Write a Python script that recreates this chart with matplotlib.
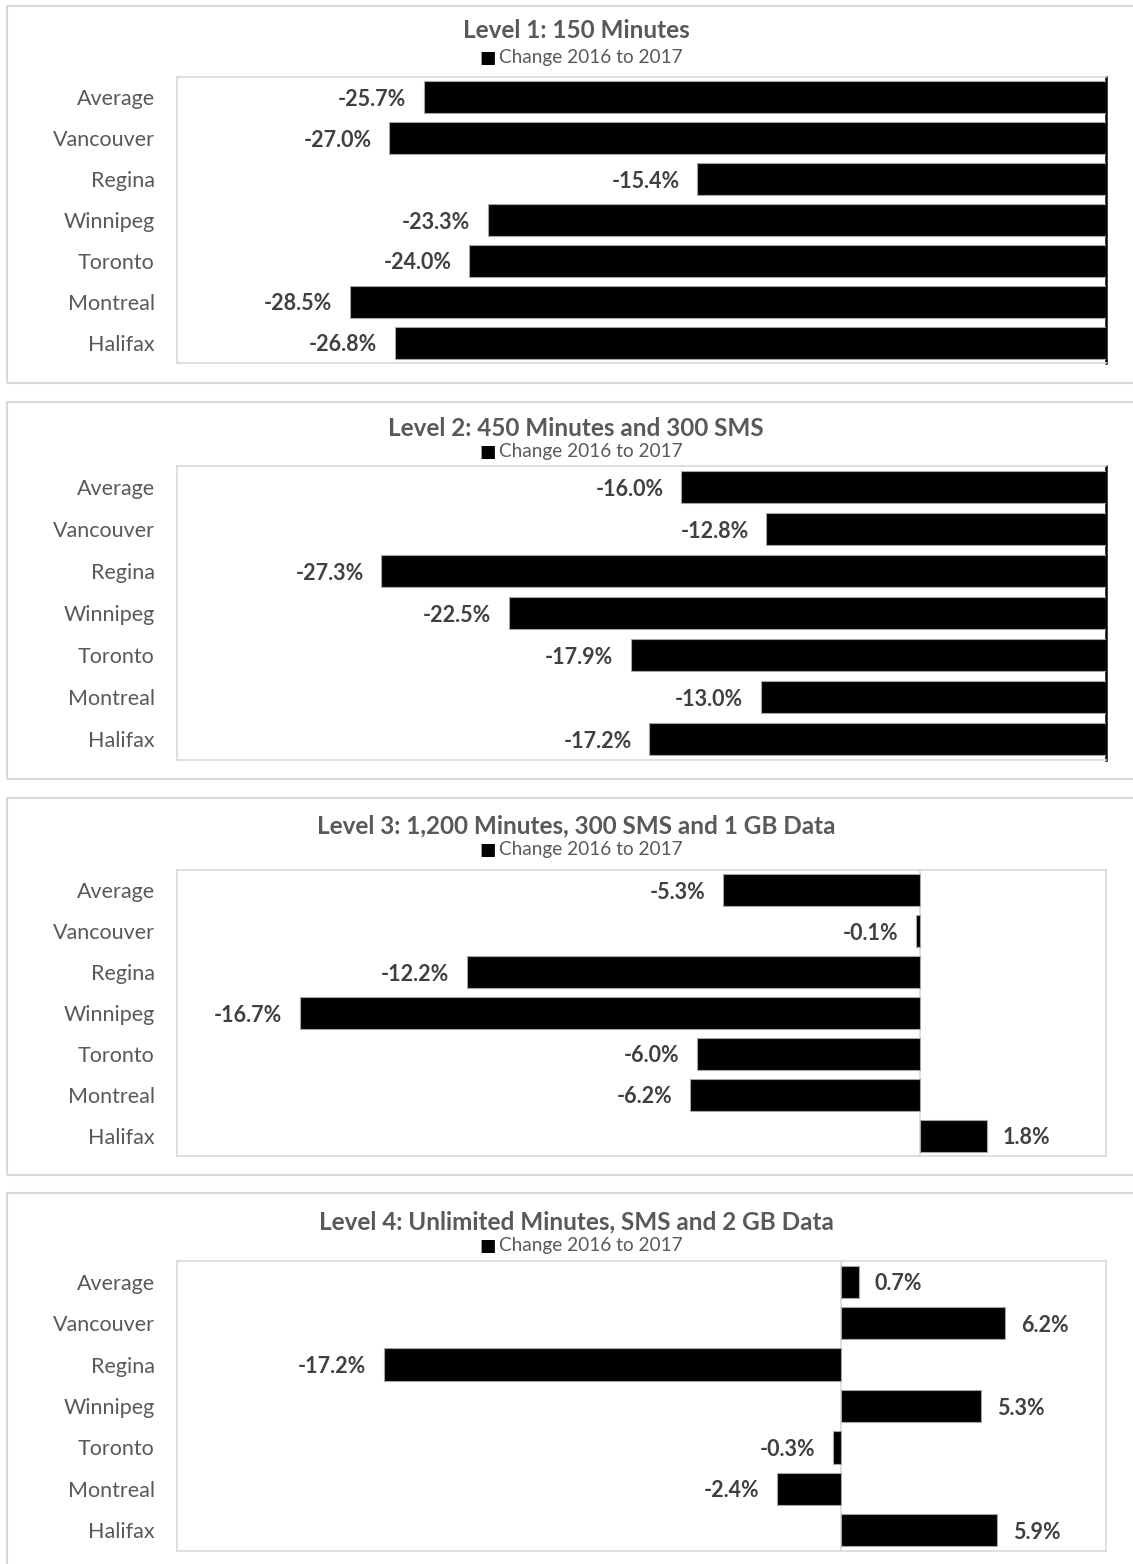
import matplotlib
matplotlib.use("Agg")
import matplotlib.pyplot as plt
from matplotlib.patches import Rectangle

plt.rcParams['font.family'] = ['Lato', 'DejaVu Sans']

# data
cities = ["Average", "Vancouver", "Regina", "Winnipeg", "Toronto", "Montreal", "Halifax"]
titles = [
    "Level 1: 150 Minutes",
    "Level 2: 450 Minutes and 300 SMS",
    "Level 3: 1,200 Minutes, 300 SMS and 1 GB Data",
    "Level 4: Unlimited Minutes, SMS and 2 GB Data",
]
level1 = [-25.7, -27.0, -15.4, -23.3, -24.0, -28.5, -26.8]
level2 = [-16.0, -12.8, -27.3, -22.5, -17.9, -13.0, -17.2]
level3 = [-5.3, -0.1, -12.2, -16.7, -6.0, -6.2, 1.8]
level4 = [0.7, 6.2, -17.2, 5.3, -0.3, -2.4, 5.9]
series_name = "Change 2016 to 2017"
xlims = [(-35, 0), (-35, 0), (-20, 5), (-25, 10)]

W, H = 1133, 1564
# panel box (top, bottom) and plot area (top, bottom), in pixels
panel_boxes = [(6, 383), (402, 779), (798, 1175), (1193, 1570)]
plot_areas = [(77, 363), (466, 760), (870, 1156), (1261, 1551)]
title_y = [31, 428, 826, 1222]
legend_y = [57, 451, 849, 1245]
PX_L, PX_R = 177, 1106
BOX_L, BOX_R = 7, 1145

TXT = "#595959"
LBL = "#404040"
GRID = "#d9d9d9"

fig = plt.figure(figsize=(W / 100, H / 100), dpi=100)


def fx(px):
    return px / W


def fy(py):
    return 1 - py / H


for i, vals in enumerate([level1, level2, level3, level4]):
    bt, bb = panel_boxes[i]
    fig.patches.append(Rectangle((fx(BOX_L), fy(bb)), fx(BOX_R - BOX_L), (bb - bt) / H,
                                 transform=fig.transFigure, fill=False,
                                 edgecolor=GRID, linewidth=1.5, zorder=0))
    pt, pb = plot_areas[i]
    ax = fig.add_axes([fx(PX_L), fy(pb), fx(PX_R - PX_L), (pb - pt) / H])
    y = list(range(len(cities)))
    ax.barh(y, vals, height=0.78, color="black", edgecolor="#a6a6a6", linewidth=0.8, zorder=3)
    ax.set_xlim(*xlims[i])
    ax.set_ylim(len(cities) - 0.5, -0.5)
    ax.set_yticks(y)
    ax.set_yticklabels(cities, color=TXT, fontsize=15.5)
    ax.tick_params(axis='y', length=0, pad=16)
    ax.set_xticks([])
    for s in ax.spines.values():
        s.set_color(GRID)
        s.set_linewidth(1.2)
    if xlims[i][1] == 0:
        ax.spines['right'].set_color("black")
        ax.spines['right'].set_linewidth(1.8)
    else:
        ax.axvline(0, color=GRID, linewidth=1.2, zorder=2)
    span = xlims[i][1] - xlims[i][0]
    for yy, v in zip(y, vals):
        if v < 0:
            ax.text(v - span * 0.019, yy + 0.05, f"{v:.1f}%", ha="right", va="center",
                    fontsize=15.5, fontweight="bold", color=LBL)
        else:
            ax.text(v + span * 0.017, yy + 0.05, f"{v:.1f}%", ha="left", va="center",
                    fontsize=15.5, fontweight="bold", color=LBL)

    cx = fx((BOX_L + BOX_R) / 2)
    fig.text(cx, fy(title_y[i]), titles[i], ha="center", va="center",
             fontsize=17.5, fontweight="bold", color=TXT)
    fig.text(fx(591), fy(legend_y[i]), series_name, ha="center", va="center",
             fontsize=13.7, color=TXT)
    fig.text(fx(488), fy(legend_y[i] + 1), "\u25A0", ha="center", va="center",
             fontsize=12.5, color="black", family="DejaVu Sans")

fig.savefig("out.png", dpi=100, facecolor="white")
